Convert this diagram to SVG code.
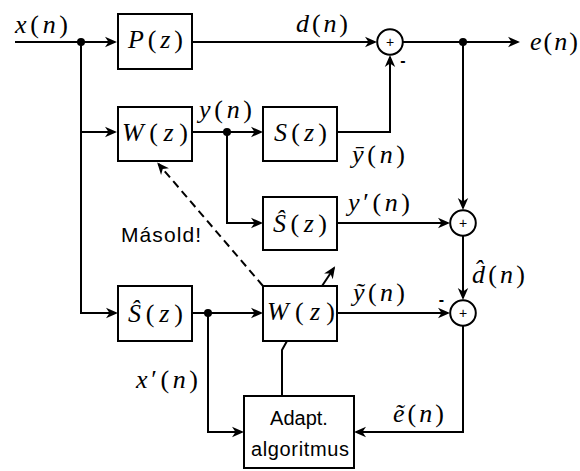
<svg xmlns="http://www.w3.org/2000/svg" width="580" height="471" viewBox="0 0 580 471">
<style>
.box{fill:#fff;stroke:#000;stroke-width:2}
.sum{fill:#fff;stroke:#000;stroke-width:2}
.ln{fill:none;stroke:#000;stroke-width:2}
.dash{fill:none;stroke:#000;stroke-width:2;stroke-dasharray:8 5}
</style>
<defs>
<marker id="arr" viewBox="0 0 14 12" markerWidth="14" markerHeight="12" refX="10" refY="6" orient="auto" markerUnits="userSpaceOnUse">
<path d="M0,0.8 L12,6 L0,11.2 L3.5,6 z" fill="#000"/>
</marker>
</defs>
<rect width="580" height="471" fill="#fff"/>

<g id="connectors">
<path class="ln" d="M15,42 H115" marker-end="url(#arr)"/>
<path class="ln" d="M81,42 V313 H116" marker-end="url(#arr)"/>
<path class="ln" d="M81,132 H115" marker-end="url(#arr)"/>
<path class="ln" d="M192,42 H375" marker-end="url(#arr)"/>
<path class="ln" d="M403,42 H518" marker-end="url(#arr)"/>
<path class="ln" d="M463,42 V208" marker-end="url(#arr)"/>
<path class="ln" d="M192,132 H261" marker-end="url(#arr)"/>
<path class="ln" d="M227,132 V223 H261" marker-end="url(#arr)"/>
<path class="ln" d="M337,132 H390 V57" marker-end="url(#arr)"/>
<path class="ln" d="M337,223 H448" marker-end="url(#arr)"/>
<path class="ln" d="M463,236 V298" marker-end="url(#arr)"/>
<path class="ln" d="M192,313 H261" marker-end="url(#arr)"/>
<path class="ln" d="M208,313 V432 H242" marker-end="url(#arr)"/>
<path class="ln" d="M337,313 H448" marker-end="url(#arr)"/>
<path class="ln" d="M463,326 V432 H356" marker-end="url(#arr)"/>
<path class="ln" d="M287,341 L282,350 V396"/>
<path class="ln" d="M322,286 L334,268" marker-end="url(#arr)"/>
<path class="dash" d="M263,286 L158.5,164" marker-end="url(#arr)"/>
<circle cx="81" cy="42" r="4" fill="#000"/>
<circle cx="463" cy="42" r="4" fill="#000"/>
<circle cx="227" cy="132" r="4" fill="#000"/>
<circle cx="208" cy="313" r="4" fill="#000"/>
<g font-family="Liberation Serif, serif" font-size="26" fill="#000">
<text x="15" y="32.5" textLength="53" lengthAdjust="spacing"><tspan font-style="italic">x</tspan>(<tspan font-style="italic">n</tspan>)</text>
<text x="296" y="32" textLength="52" lengthAdjust="spacing"><tspan font-style="italic">d</tspan>(<tspan font-style="italic">n</tspan>)</text>
<text x="530" y="50" textLength="48" lengthAdjust="spacing"><tspan font-style="italic">e</tspan>(<tspan font-style="italic">n</tspan>)</text>
<text x="199" y="118" textLength="53" lengthAdjust="spacing"><tspan font-style="italic">y</tspan>(<tspan font-style="italic">n</tspan>)</text>
<text x="352" y="163" textLength="53" lengthAdjust="spacing"><tspan font-style="italic">ȳ</tspan>(<tspan font-style="italic">n</tspan>)</text>
<text x="348" y="211" textLength="62" lengthAdjust="spacing"><tspan font-style="italic">y</tspan>′(<tspan font-style="italic">n</tspan>)</text>
<text x="472" y="283" textLength="53" lengthAdjust="spacing"><tspan font-style="italic">d̂</tspan>(<tspan font-style="italic">n</tspan>)</text>
<text x="353" y="301" textLength="52" lengthAdjust="spacing"><tspan font-style="italic">ỹ</tspan>(<tspan font-style="italic">n</tspan>)</text>
<text x="136" y="388" textLength="62" lengthAdjust="spacing"><tspan font-style="italic">x</tspan>′(<tspan font-style="italic">n</tspan>)</text>
<text x="393" y="422" textLength="51" lengthAdjust="spacing"><tspan font-style="italic">ẽ</tspan>(<tspan font-style="italic">n</tspan>)</text>
</g>
<text x="121" y="241.5" font-family="Liberation Sans, Arial, sans-serif" font-size="21" textLength="80" lengthAdjust="spacing">Másold!</text>
<g font-family="Liberation Sans, Arial, sans-serif" font-size="16" font-weight="bold" text-anchor="middle">
<text x="403" y="65.5">-</text>
<text x="441.5" y="304.5">-</text>
</g>
</g>

<g id="P">
<rect class="box" x="118" y="14" width="74" height="55"/>
<text x="128" y="48" font-family="Liberation Serif, serif" font-size="26" textLength="55" lengthAdjust="spacing"><tspan font-style="italic">P</tspan>(<tspan font-style="italic">z</tspan>)</text>
</g>
<g id="W1">
<rect class="box" x="118" y="107" width="74" height="54"/>
<text x="122" y="140.5" font-family="Liberation Serif, serif" font-size="26" textLength="66" lengthAdjust="spacing"><tspan font-style="italic">W</tspan>(<tspan font-style="italic">z</tspan>)</text>
</g>
<g id="S">
<rect class="box" x="263" y="107" width="74" height="54"/>
<text x="274" y="140.5" font-family="Liberation Serif, serif" font-size="26" textLength="53" lengthAdjust="spacing"><tspan font-style="italic">S</tspan>(<tspan font-style="italic">z</tspan>)</text>
</g>
<g id="Shat1">
<rect class="box" x="263" y="197" width="74" height="53"/>
<text x="273" y="231.5" font-family="Liberation Serif, serif" font-size="26" textLength="54" lengthAdjust="spacing"><tspan font-style="italic">Ŝ</tspan>(<tspan font-style="italic">z</tspan>)</text>
</g>
<g id="Shat2">
<rect class="box" x="118" y="286" width="74" height="55"/>
<text x="128" y="321.5" font-family="Liberation Serif, serif" font-size="26" textLength="55" lengthAdjust="spacing"><tspan font-style="italic">Ŝ</tspan>(<tspan font-style="italic">z</tspan>)</text>
</g>
<g id="W2">
<rect class="box" x="263" y="286" width="74" height="55"/>
<text x="267" y="319.5" font-family="Liberation Serif, serif" font-size="26" textLength="68" lengthAdjust="spacing"><tspan font-style="italic">W</tspan>(<tspan font-style="italic">z</tspan>)</text>
</g>
<g id="adapt">
<rect class="box" x="244" y="396" width="110" height="72"/>
<g font-family="Liberation Sans, Arial, sans-serif" font-size="20" text-anchor="middle">
<text x="299" y="425">Adapt.</text>
<text x="300" y="456" textLength="98" lengthAdjust="spacing">algoritmus</text>
</g>
</g>
<g id="sum1">
<circle class="sum" cx="390" cy="42" r="12.8"/>
<text x="390" y="47" font-family="Liberation Sans, Arial, sans-serif" font-size="14" text-anchor="middle">+</text>
</g>
<g id="sum2">
<circle class="sum" cx="463" cy="223" r="12.8"/>
<text x="463" y="228" font-family="Liberation Sans, Arial, sans-serif" font-size="14" text-anchor="middle">+</text>
</g>
<g id="sum3">
<circle class="sum" cx="463" cy="313" r="12.8"/>
<text x="463" y="318" font-family="Liberation Sans, Arial, sans-serif" font-size="14" text-anchor="middle">+</text>
</g>
</svg>
